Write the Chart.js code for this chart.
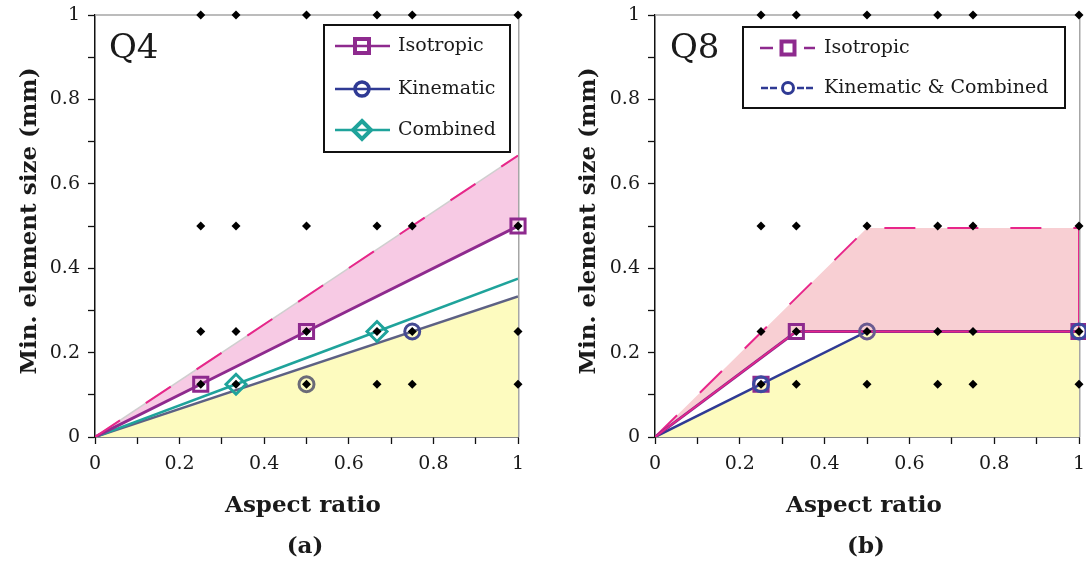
<!DOCTYPE html>
<html>
<head>
<meta charset="utf-8">
<script src="https://cdn.jsdelivr.net/npm/chart.js@4.4.1/dist/chart.umd.min.js"></script>
<style>
  html, body { margin: 0; padding: 0; background: #fff; }
  #wrap { position: relative; width: 1086px; height: 564px; overflow: hidden; }
  canvas { position: absolute; top: 0; }
</style>
</head>
<body>
<div id="wrap">
  <canvas id="q4" width="543" height="564" style="left:0"></canvas>
  <canvas id="q8" width="543" height="564" style="left:543px"></canvas>
</div>
<script>
// Mesh cases that were run (aspect ratio x element size)
const meshRatios = [0.25, 1 / 3, 0.5, 2 / 3, 0.75, 1];
const meshSizes = [1, 0.5, 0.25, 0.125];
const axisTickLabels = ['0', '0.2', '0.4', '0.6', '0.8', '1'];

// Q4 elements
const q4UpperX = [0, 1];
const q4UpperY = [0, 0.667];
const q4IsoX = [0, 0.25, 0.5, 1];
const q4IsoY = [0, 0.125, 0.25, 0.5];
const q4CombX = [0, 1 / 3, 2 / 3, 1];
const q4CombY = [0, 0.125, 0.25, 0.375];
const q4KinX = [0, 1];
const q4KinY = [0, 0.333];
const q4IsoMarkX = [0.25, 0.5, 1];
const q4IsoMarkY = [0.125, 0.25, 0.5];
const q4CombMarkX = [1 / 3, 2 / 3];
const q4CombMarkY = [0.125, 0.25];
const q4KinMarkX = [0.5, 0.75];
const q4KinMarkY = [0.125, 0.25];

// Q8 elements
const q8UpperX = [0, 0.5, 1, 1];
const q8UpperY = [0, 0.495, 0.495, 0.25];
const q8IsoX = [0, 1 / 3, 1];
const q8IsoY = [0, 0.25, 0.25];
const q8KinX = [0, 0.5, 1];
const q8KinY = [0, 0.25, 0.25];
const q8IsoMarkX = [0.25, 1 / 3, 1];
const q8IsoMarkY = [0.125, 0.25, 0.25];
const q8KinMarkX = [0.25, 0.5, 1];
const q8KinMarkY = [0.125, 0.25, 0.25];

const SERIF = '"DejaVu Serif", "Liberation Serif", serif';
const INK = '#1a1a1a';
const PURPLE = '#8e2a8e';
const BLUE = '#2f3a94';
const TEAL = '#1fa39b';
const MAGENTA = '#e8268a';
const YELLOW = '#fdfbbf';

const pts = (xs, ys) => xs.map((x, i) => ({ x, y: ys[i] }));
const meshPts = meshRatios.flatMap(x => meshSizes.map(y => ({ x, y })));

function lineDs(data, color, width, extra) {
  return Object.assign({
    data, showLine: true, borderColor: color, borderWidth: width,
    pointRadius: 0, pointHoverRadius: 0, tension: 0, fill: false
  }, extra);
}
function markDs(data, style, radius, color, extra) {
  return Object.assign({
    data, showLine: false, pointStyle: style, pointRadius: radius, pointHoverRadius: radius,
    pointBorderWidth: 3, pointBorderColor: color, pointBackgroundColor: 'rgba(0,0,0,0)',
    clip: false, order: 1
  }, extra);
}
function dotsDs() {
  return {
    data: meshPts, showLine: false, pointStyle: 'rectRot', pointRadius: 4.5, pointHoverRadius: 4.5,
    pointBorderWidth: 0, pointBackgroundColor: '#000', clip: false, order: 2
  };
}

function axis(id, fit) {
  return {
    type: 'linear', min: 0, max: 1,
    ticks: {
      stepSize: 0.1, autoSkip: false, maxRotation: 0, padding: id === 'x' ? 9 : 8,
      color: INK, font: { family: SERIF, size: 19 },
      callback: (v, i) => (i % 2 === 0 ? axisTickLabels[i / 2] : '')
    },
    grid: { drawOnChartArea: false, drawTicks: true, tickLength: 7, tickColor: '#111', tickWidth: 1.3 },
    border: { display: true, color: '#111', width: 1.5 },
    afterFit: s => {
      if (id === 'x') s.height = fit; else s.width = fit;
      s.paddingTop = 0; s.paddingBottom = 0; s.paddingLeft = 0; s.paddingRight = 0;
    }
  };
}

function drawMark(ctx, kind, x, y, color, size, lw) {
  ctx.save();
  ctx.strokeStyle = color;
  ctx.lineWidth = lw;
  ctx.beginPath();
  if (kind === 'rect') ctx.rect(x - size, y - size, size * 2, size * 2);
  else if (kind === 'circle') ctx.arc(x, y, size, 0, Math.PI * 2);
  else { ctx.moveTo(x, y - size); ctx.lineTo(x + size, y); ctx.lineTo(x, y + size); ctx.lineTo(x - size, y); ctx.closePath(); }
  ctx.stroke();
  ctx.restore();
}

// Per-panel text and legend settings, keyed by canvas id
const panels = {
  q4: {
    tag: 'Q4', tagX: 109, caption: '(a)', captionX: 305, xTitleX: 303, yTitleX: 30,
    legend: {
      box: [324, 25, 510, 152], markX: 362, textX: 398,
      rows: [
        { y: 46, label: 'Isotropic', color: PURPLE, mark: 'rect', size: 7, lw: 4, segs: [[335, 390]] },
        { y: 89, label: 'Kinematic', color: BLUE, mark: 'circle', size: 7, lw: 3.5, segs: [[335, 390]] },
        { y: 130, label: 'Combined', color: TEAL, mark: 'diamond', size: 9, lw: 4, segs: [[335, 390]] }
      ]
    }
  },
  q8: {
    tag: 'Q8', tagX: 127, caption: '(b)', captionX: 323, xTitleX: 321, yTitleX: 46,
    legend: {
      box: [200, 27, 522, 108], markX: 245, textX: 281,
      rows: [
        { y: 48, label: 'Isotropic', color: PURPLE, mark: 'rect', size: 6.5, lw: 4, segs: [[217, 230], [261, 272]] },
        { y: 88, label: 'Kinematic & Combined', color: BLUE, mark: 'circle', size: 5.5, lw: 3, segs: [[218, 225], [227, 234], [254, 261], [263, 270]] }
      ]
    }
  }
};

// Frame, titles, panel tag and legend box
const decor = {
  id: 'decor',
  beforeDatasetsDraw(chart) {
    const { ctx, chartArea: a } = chart;
    ctx.save();
    ctx.strokeStyle = '#a6a6a6';
    ctx.lineWidth = 1.5;
    ctx.beginPath();
    ctx.moveTo(a.left, a.top);
    ctx.lineTo(a.right + 0.75, a.top);
    ctx.lineTo(a.right + 0.75, a.bottom);
    ctx.stroke();
    ctx.restore();
  },
  afterDraw(chart) {
    const o = panels[chart.canvas.id];
    const ctx = chart.ctx;
    ctx.save();
    ctx.fillStyle = INK;
    ctx.font = '34px ' + SERIF;
    ctx.textAlign = 'left';
    ctx.textBaseline = 'alphabetic';
    ctx.fillText(o.tag, o.tagX, 58);

    ctx.font = 'bold 23px ' + SERIF;
    ctx.textAlign = 'center';
    ctx.fillText('Aspect ratio', o.xTitleX, 512);
    ctx.fillText(o.caption, o.captionX, 553);
    ctx.save();
    ctx.translate(o.yTitleX, 221);
    ctx.rotate(-Math.PI / 2);
    ctx.textBaseline = 'middle';
    ctx.fillText('Min. element size (mm)', 0, 0);
    ctx.restore();

    const L = o.legend;
    const [x1, y1, x2, y2] = L.box;
    ctx.fillStyle = '#fff';
    ctx.fillRect(x1, y1, x2 - x1, y2 - y1);
    ctx.strokeStyle = '#111';
    ctx.lineWidth = 2;
    ctx.strokeRect(x1, y1, x2 - x1, y2 - y1);
    L.rows.forEach(r => {
      ctx.save();
      ctx.strokeStyle = r.color;
      ctx.lineWidth = 2.5;
      r.segs.forEach(([a, b]) => {
        ctx.beginPath();
        ctx.moveTo(a, r.y);
        ctx.lineTo(b, r.y);
        ctx.stroke();
      });
      ctx.restore();
      drawMark(ctx, r.mark, L.markX, r.y, r.color, r.size, r.lw);
      ctx.fillStyle = INK;
      ctx.font = '19px ' + SERIF;
      ctx.textAlign = 'left';
      ctx.textBaseline = 'middle';
      ctx.fillText(r.label, L.textX, r.y);
    });
    ctx.restore();
  }
};

function baseOptions(yFit, rightPad) {
  return {
    responsive: false,
    animation: false,
    events: [],
    layout: { autoPadding: false, padding: { left: 0, right: rightPad, top: 15, bottom: 0 } },
    scales: { x: axis('x', 127), y: axis('y', yFit) },
    plugins: { legend: { display: false }, tooltip: { enabled: false } }
  };
}

// Q4 panel
new Chart(document.getElementById('q4'), {
  type: 'scatter',
  plugins: [decor],
  data: {
    datasets: [
      dotsDs(),
      markDs(pts(q4IsoMarkX, q4IsoMarkY), 'rect', 10, PURPLE),
      markDs(pts(q4CombMarkX, q4CombMarkY), 'rectRot', 10, TEAL),
      markDs(pts(q4KinMarkX, q4KinMarkY), 'circle', 7.5, ['#6b6b78', '#454a92']),
      lineDs(pts(q4UpperX, q4UpperY), MAGENTA, 2, { borderDash: [30, 31], order: 5 }),
      lineDs(pts(q4IsoX, q4IsoY), PURPLE, 3, { order: 6 }),
      lineDs(pts(q4CombX, q4CombY), TEAL, 2.5, { order: 7 }),
      lineDs(pts(q4UpperX, q4UpperY), '#cfcfcf', 1.5, { fill: 5, backgroundColor: '#f7cae4', order: 8 }),
      lineDs(pts(q4KinX, q4KinY), '#5d6184', 2.5, { fill: 'origin', backgroundColor: YELLOW, order: 9 })
    ]
  },
  options: baseOptions(95, 25)
});

// Q8 panel
new Chart(document.getElementById('q8'), {
  type: 'scatter',
  plugins: [decor],
  data: {
    datasets: [
      dotsDs(),
      markDs(pts(q8IsoMarkX, q8IsoMarkY), 'rect', 10, PURPLE),
      markDs(pts(q8KinMarkX, q8KinMarkY), 'circle', 7.5, ['#3c4aa0', '#6a5a90', '#3c4aa0'], { order: 0 }),
      lineDs(pts(q8UpperX, q8UpperY), MAGENTA, 2, {
        borderDash: [31, 32], fill: 5, backgroundColor: '#f8cfd3', order: 8,
        segment: { borderDash: c => (c.p0DataIndex === 2 ? [] : undefined) }
      }),
      lineDs(pts(q8IsoX, q8IsoY), MAGENTA, 1.5, { order: 5 }),
      lineDs(pts(q8IsoX, q8IsoY), PURPLE, 3, { order: 6 }),
      lineDs(pts(q8KinX, q8KinY), BLUE, 2.5, { fill: 'origin', backgroundColor: YELLOW, order: 9 })
    ]
  },
  options: baseOptions(112, 7)
});
</script>
</body>
</html>
